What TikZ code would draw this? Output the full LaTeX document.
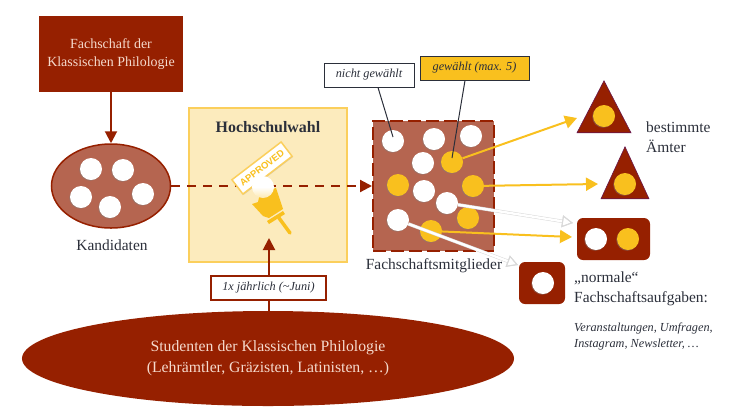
\documentclass[tikz,border=0pt]{standalone}
\usepackage{fontspec}
\setmainfont{Liberation Serif}
\newfontfamily\stampfont{Liberation Sans}
\usepackage{color}
\usetikzlibrary{arrows.meta,shapes.geometric,shadows}
\definecolor{fsred}{RGB}{150,32,0}
\definecolor{fsrose}{RGB}{181,101,80}
\definecolor{fsgold}{RGB}{249,192,30}
\definecolor{fscream}{RGB}{252,235,189}
\definecolor{fsedge}{RGB}{251,207,92}
\definecolor{fstext}{RGB}{43,47,58}
\definecolor{fspale}{RGB}{245,218,205}
\tikzset{
  txt/.style={font=\fontsize{15.5}{20}\selectfont,text=fstext,align=left,inner sep=0pt},
  note/.style={font=\fontsize{12.3}{16}\selectfont\itshape,text=fstext,inner sep=0pt},
  dot/.style={circle,minimum size=22bp,inner sep=0pt,drop shadow={shadow xshift=-.8bp,shadow yshift=-.8bp,opacity=.45}},
  whitedot/.style={dot,fill=white},
  golddot/.style={dot,fill=fsgold},
  amt/.style={isosceles triangle,shape border rotate=90,isosceles triangle stretches,anchor=apex,inner sep=0pt,fill=fsred,draw=blue!30!fsred,line width=.6bp},
  slot/.style={rounded corners=6bp,fill=fsred,inner sep=0pt},
  redarrow/.style={draw=fsred,line width=2bp,-{Triangle[length=12bp,width=12bp]}},
  goldarrow/.style={draw=fsgold,line width=2bp,-{Triangle[length=12bp,width=13bp]}},
  whitearrow/.style={draw=white,line width=2.4bp,-{Triangle[open,length=11bp,width=12bp,color=black!15,line width=1bp]},
    preaction={draw=black!15,line width=3.4bp}},
  leader/.style={draw=fstext,line width=1bp},
}
\begin{document}
\begin{tikzpicture}[x=1bp,y=-1bp]
\useasboundingbox (0,0) rectangle (738,418);

% left column
\node [fill=fsred,minimum width=144bp,minimum height=76bp,inner sep=0pt,align=center,text=fspale,font=\fontsize{14}{18}\selectfont] (board) at (111,54) {Fachschaft der\\Klassischen Philologie};
\node [ellipse,fill=fsrose,draw=fsred,line width=1.5bp,minimum width=119bp,minimum height=84bp,inner sep=0pt] (cand) at (111,186) {};
\foreach \name/\x/\y in {c1/91/169,c2/123/170,c3/81/197,c4/110/207,c5/143/194}
  \node [whitedot] (\name) at (\x,\y) {};
\node [txt] (candlabel) at (112,245) {Kandidaten};
\draw [redarrow] (board) -- (cand);

% election box
\node [fill=fscream,draw=fsedge,line width=1.2bp,minimum width=158bp,minimum height=154bp,inner sep=0pt] (poll) at (268,185) {};
\node [font=\fontsize{16}{18}\selectfont\bfseries,text=fstext,inner sep=0pt] (polltitle) at (268,127) {Hochschulwahl};

% members
\node [fill=fsrose,draw=fsred,line width=2bp,dash pattern=on 13bp off 5bp,minimum width=121bp,minimum height=130bp,inner sep=0pt] (members) at (433.5,186) {};
\draw [draw=fsred,line width=2.2bp,dash pattern=on 9bp off 7bp,-{Triangle[length=12bp,width=12bp]}] (cand) -- (members);

% stamp and brush
\node [rotate=37.5,fill=white,draw=fsedge,line width=1.5bp,minimum width=62bp,minimum height=18bp,inner sep=0pt,text=fsgold,font=\fontsize{9.5}{10}\stampfont\bfseries,drop shadow={shadow xshift=.8bp,shadow yshift=-.8bp,opacity=.3}] (stamp) at (262,168) {APPROVED};
\fill [fsgold] (260,193) -- (276,188) -- (283,209) -- (269,218) -- (263,216) -- (252,204) -- (258,202) -- cycle;
\fill [fsgold] (267,221) -- (283,211) -- (285,214) -- (269,224) -- cycle;
\draw [fsgold,line width=3.5bp,line cap=round] (279,218) -- (290,233);
\node [circle,minimum size=22bp,inner sep=0pt,top color=white,bottom color=fsgold!35,middle color=white] (ball) at (263,187) {};

% Studenten
\node [ellipse,fill=fsred,minimum width=492bp,minimum height=95bp,inner sep=0pt,align=center,text=fspale,font=\fontsize{15.8}{21}\selectfont] (students) at (268,358.5) {Studenten der Klassischen Philologie\\(Lehrämtler, Gräzisten, Latinisten, …)};
\coordinate (polltip) at (269,238);
\draw [redarrow] (students.north -| polltip) -- (polltip);
\node [fill=white,draw=fsred,line width=1.5bp,minimum width=115bp,minimum height=24bp,inner sep=0pt,note] (freq) at (268.5,288) {1x jährlich (\textasciitilde Juni)};

% dots in the square
\foreach \name/\x/\y in {w1/393/141,w2/434/139,w3/471/136,w4/423/163,w5/424/191,w6/447/203,w7/398/220}
  \node [whitedot] (\name) at (\x,\y) {};
\foreach \name/\x/\y in {g1/452/162,g2/398/185,g3/473/186,g4/468/218,g5/431/231}
  \node [golddot] (\name) at (\x,\y) {};
\node [txt] (memberlabel) at (434,266) {Fachschaftsmitglieder};

% right column
\node [amt,minimum width=54bp,minimum height=52bp] (office1) at (604,80) {};
\node [amt,minimum width=48bp,minimum height=52bp] (office2) at (625,146) {};
\node [golddot] (od1) at (604,116) {};
\node [golddot] (od2) at (625,184) {};
\node [txt,anchor=west] (officelabel) at (646,137) {bestimmte\\Ämter};
\node [slot,minimum width=73bp,minimum height=42bp] (team) at (613.5,239) {};
\node [whitedot] (td1) at (596,239) {};
\node [golddot] (td2) at (628,239) {};
\node [slot,minimum width=46bp,minimum height=42bp] (single) at (542,283) {};
\node [whitedot] (sd1) at (543,283) {};
\node [txt,anchor=north west] (tasklabel) at (574,272) {„normale“\\Fachschaftsaufgaben:};
\node [note,anchor=north west,align=left,font=\fontsize{12.3}{16}\selectfont\itshape] (tasks) at (574,323) {Veranstaltungen, Umfragen,\\Instagram, Newsletter, …};

% arrows
\coordinate (tip1) at (577,118);
\coordinate (tip2) at (598,184);
\coordinate (tip3) at (572,237);
\coordinate (tip4) at (573,223);
\coordinate (tip5) at (518,265);
\draw [whitearrow] (w6) -- (tip4);
\draw [whitearrow] (w7) -- (tip5);
\draw [goldarrow] (g1) -- (tip1);
\draw [goldarrow] (g3) -- (tip2);
\draw [goldarrow] (g5) -- (tip3);

% labels on top
\node [fill=white,draw=fstext,line width=1bp,minimum width=90bp,minimum height=24bp,inner sep=0pt,note] (notelected) at (369,75) {nicht gewählt};
\node [fill=fsgold,draw=fstext,line width=1bp,minimum width=109bp,minimum height=24bp,inner sep=0pt,note] (elected) at (474.5,68) {gewählt (max. 5)};
\draw [leader] ([xshift=9bp]notelected.south) -- ([yshift=4bp]w1.center);
\draw [leader] ([xshift=-9.5bp]elected.south) -- ([yshift=4bp]g1.center);
\end{tikzpicture}
\end{document}
